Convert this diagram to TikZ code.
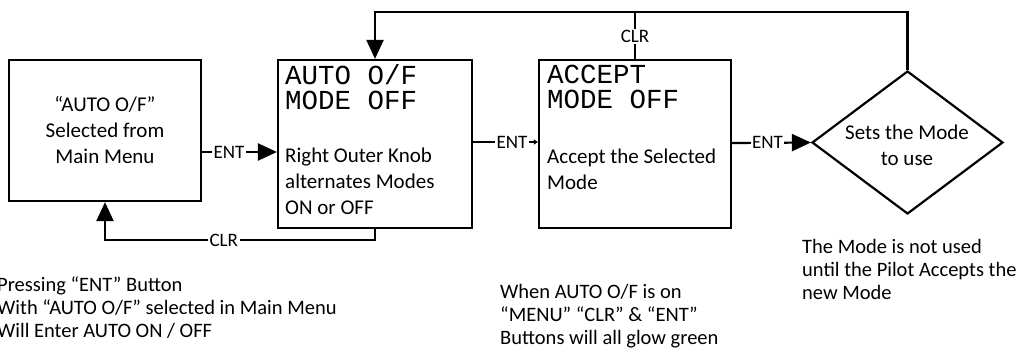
\documentclass[tikz,border=0pt]{standalone}
\usepackage{fontspec}
\setmainfont{Carlito}
\newfontfamily\lcdfont{Liberation Mono}
\usetikzlibrary{arrows.meta,shapes.geometric}
\tikzset{
  box/.style={draw, line width=2.2pt, inner sep=0pt},
  txt/.style={inner sep=0pt, font=\fontsize{21}{26}\selectfont},
  lcd/.style={inner sep=0pt, align=left, font=\lcdfont\fontsize{27.5}{25}\selectfont},
  note/.style={inner sep=0pt, align=left, anchor=west, font=\fontsize{20.5}{23}\selectfont},
  lbl/.style={fill=white, inner sep=1.5pt, font=\fontsize{19}{20}\selectfont},
  conn/.style={line width=2.2pt},
  bigarr/.style={conn, -{Triangle[length=19pt,width=17pt]}},
  smallarr/.style={conn, -{Triangle[length=4pt,width=5pt]}}
}
\begin{document}
\begin{tikzpicture}[x=1pt,y=-1pt]
\useasboundingbox (0,0) rectangle (1024,356);
% boxes
\node[box, minimum width=192pt, minimum height=141pt] (b1) at (105,130.5) {};
\node[box, minimum width=194pt, minimum height=168pt] (b2) at (375,144) {};
\node[box, minimum width=192pt, minimum height=168pt] (b3) at (635,144) {};
\node[draw, diamond, line width=2.2pt, inner sep=0pt, minimum width=191pt, minimum height=143pt] (d) at (907.5,142.5) {};
% texts in boxes
\node[txt, align=center] (t1) at (105,130) {“AUTO O/F”\\Selected from\\Main Menu};
\node[lcd, anchor=west] (l2) at (285,87.5) {AUTO O/F\\MODE OFF};
\node[txt, align=left, anchor=west] (t2) at (285,181) {Right Outer Knob\\alternates Modes\\ON or OFF};
\node[lcd, anchor=west] (l3) at (547,86.5) {ACCEPT\\MODE OFF};
\node[txt, align=left, anchor=west] (t3) at (547,169.5) {Accept the Selected\\Mode};
\node[txt, align=center] (td) at (907,145) {Sets the Mode\\to use};
% notes
\node[note] (n1) at (-3,308) {Pressing “ENT” Button\\With “AUTO O/F” selected in Main Menu\\Will Enter AUTO ON / OFF};
\node[note] (n2) at (500,316) {When AUTO O/F is on\\“MENU” “CLR” \& “ENT”\\Buttons will all glow green};
\node[note] (n3) at (802,269) {The Mode is not used\\until the Pilot Accepts the\\new Mode};
% helper coordinates
\coordinate (top) at (0,12);
\coordinate (bot) at (0,240);
\coordinate (y1) at (0,152);
\coordinate (y2) at (0,142);
\coordinate (y3) at (0,143);
% connectors
\draw[bigarr] (b1.east |- y1) -- node[lbl, pos=0.36]{ENT} (b2.west |- y1);
\draw[smallarr] (b2.east |- y2) -- node[lbl, pos=0.6]{ENT} (b3.west |- y2);
\draw[bigarr] (b3.east |- y3) -- node[lbl, pos=0.45]{ENT} (d.west);
\draw[bigarr] (d.north) -- (d.north |- top) -| (b2.north);
\draw[conn] (b3.north) -- node[lbl, pos=0.48]{CLR} (b3.north |- top);
\draw[bigarr] (b2.south) -- (b2.south |- bot) -- node[lbl, pos=0.56]{CLR} (b1.south |- bot) -- (b1.south);
\end{tikzpicture}
\end{document}
